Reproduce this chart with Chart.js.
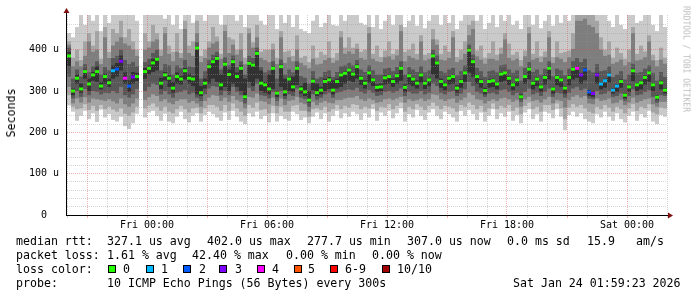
<!DOCTYPE html>
<html>
<head>
<meta charset="utf-8">
<title>SmokePing median rtt</title>
<script src="https://cdn.jsdelivr.net/npm/chart.js@4.4.1/dist/chart.umd.min.js"></script>
<style>
  html, body { margin: 0; padding: 0; background: #fff; }
  #wrap { position: relative; width: 697px; height: 297px; overflow: hidden; background: #fff; }
  #chart { position: absolute; left: 0; top: 0; }
  .mono { font-family: "DejaVu Sans Mono", monospace; color: #000; white-space: pre; }
  .row { position: absolute; left: 0; width: 697px; height: 14px; line-height: 14px; font-size: 11.6px; }
  .row span { position: absolute; top: 0; }
  .row .box { width: 6px; height: 6px; top: 3px; border: 1px solid #000; }
  #ytitle { position: absolute; left: 11px; top: 113px; font-size: 11.6px; transform: translate(-50%, -50%) rotate(-90deg); }
  #mark { position: absolute; left: 686px; top: 59px; font-size: 8px; color: #bdbdbd; transform: translate(-50%, -50%) rotate(90deg); }
</style>
</head>
<body>
<div id="wrap">
  <canvas id="chart" width="697" height="297"></canvas>
  <div id="ytitle" class="mono">Seconds</div>
  <div id="mark" class="mono">RRDTOOL / TOBI OETIKER</div>
  <div class="row mono" style="top:234px">
    <span style="left:16px">median rtt:</span>
    <span style="left:107px">327.1 us avg</span>
    <span style="left:207px">402.0 us max</span>
    <span style="left:307px">277.7 us min</span>
    <span style="left:407px">307.0 us now</span>
    <span style="left:507px">0.0 ms sd</span>
    <span style="left:587px">15.9</span>
    <span style="left:636px">am/s</span>
  </div>
  <div class="row mono" style="top:248px">
    <span style="left:16px">packet loss:</span>
    <span style="left:107px">1.61 % avg</span>
    <span style="left:192px">42.40 % max</span>
    <span style="left:286px">0.00 % min</span>
    <span style="left:372px">0.00 % now</span>
  </div>
  <div class="row mono" id="lossRow" style="top:262px">
    <span style="left:16px">loss color:</span>
  </div>
  <div class="row mono" style="top:276px">
    <span style="left:16px">probe:</span>
    <span style="left:107px">10 ICMP Echo Pings (56 Bytes) every 300s</span>
    <span style="left:513px">Sat Jan 24 01:59:23 2026</span>
  </div>
</div>
<script>
// 30 hours starting Thu 20:00, one column every 12 minutes (values in microseconds)
const stepHours = 0.2;
const hoursShown = 30;

const medianRtt = [
  385,300,331,305,347,317,339,347,312,335, 320,349,353,372,331,312,334,335,null,347,
  355,368,377,319,339,331,307,335,329,349, 331,329,404,296,319,359,371,379,315,365,
  340,371,335,355,286,367,363,391,319,315, 305,355,295,359,298,329,310,355,305,298,
  278,324,296,302,323,327,302,323,339,343, 351,341,359,331,319,344,327,309,310,332,
  335,323,337,355,309,337,329,319,339,319, 327,385,368,323,315,331,335,307,323,344,
  399,371,335,323,301,323,325,317,341,344, 331,315,327,286,335,353,319,329,310,333,
  355,305,333,327,307,333,353,355,339,351, 298,294,339,317,325,339,302,312,323,290,
  310,349,315,320,333,344,315,285,320,302
];

// lost pings (out of 10) per column
const lossPings = [
  0,0,0,0,0,0,0,0,0,0, 0,1,2,3,4,2,3,0,0,0,
  0,0,0,0,0,0,0,0,0,0, 0,0,0,0,0,0,0,0,0,0,
  0,0,0,0,0,0,0,0,0,0, 0,0,0,0,0,0,0,0,0,0,
  0,0,0,0,0,0,0,0,0,0, 0,0,0,0,0,0,0,0,0,0,
  0,0,0,0,0,0,0,0,0,0, 0,0,0,0,0,0,0,0,0,0,
  0,0,0,0,0,0,0,0,0,0, 0,0,0,0,0,0,0,0,0,0,
  0,0,0,0,0,0,0,4,3,2, 2,3,3,1,1,1,1,1,0,0,
  0,0,0,0,0,0,0,0,0,0
];

// sorted pings, fastest (ping1) to slowest (ping10)
const ping1 = [
  265,250,228,240,252,232,246,225,255,236, 244,230,226,238,215,208,222,245,null,236,
  248,252,240,228,245,226,222,238,250,232, 224,240,246,226,242,250,244,236,228,248,
  230,252,238,226,220,246,238,250,232,240, 224,246,226,240,232,228,250,244,230,236,
  222,238,248,232,246,226,240,252,234,246, 238,250,244,230,246,236,256,228,248,240,
  252,234,246,258,226,244,236,254,240,230, 248,256,240,232,250,244,236,226,252,240,
  254,244,230,248,226,240,256,232,246,238, 250,228,242,222,248,256,232,244,226,250,
  246,234,256,238,205,242,250,238,246,232, 226,222,244,236,250,238,228,246,232,224,
  240,250,228,244,236,252,226,220,242,238
];
const ping2 = [
  290,262,256,258,268,254,264,252,266,256, 262,255,250,258,245,240,248,262,null,258,
  265,270,262,252,262,250,246,256,264,256, 248,258,260,246,258,266,266,262,252,266,
  252,270,258,250,240,266,260,272,254,256, 246,264,246,262,250,250,264,266,252,252,
  238,256,258,254,262,250,256,266,256,264, 260,268,266,256,262,258,268,252,262,260,
  268,256,264,272,250,262,256,268,262,254, 264,272,264,256,264,262,258,250,266,262,
  272,266,256,264,250,258,270,256,264,260, 266,252,260,244,264,272,256,262,250,266,
  266,254,270,258,232,260,268,262,266,258, 250,246,262,256,266,260,250,262,256,246,
  258,268,252,262,258,268,248,244,260,258
];
const ping3 = [
  310,270,282,272,285,272,282,280,278,276, 280,275,270,282,268,262,270,282,null,278,
  285,292,288,275,280,272,268,276,280,280, 272,276,270,262,276,284,290,288,276,284,
  274,288,278,274,258,286,284,294,276,274, 268,284,264,282,266,276,278,286,272,268,
  250,274,266,272,276,272,270,278,278,282, 284,284,288,280,276,282,278,272,274,280,
  282,278,282,286,272,280,276,278,282,276, 280,292,290,280,276,280,282,272,278,284,
  296,290,280,278,270,276,280,276,282,284, 280,274,278,262,280,286,276,278,272,280,
  286,270,278,276,260,278,286,290,284,288, 270,268,282,276,278,282,270,272,278,266,
  272,284,272,276,280,282,268,262,274,274
];
const ping4 = [
  335,282,300,286,305,290,300,298,292,296, 295,300,295,310,290,284,292,305,null,300,
  310,318,315,292,300,292,284,296,298,302, 292,296,284,276,292,306,312,310,290,300,
  290,310,298,290,270,308,300,318,290,288, 282,298,276,300,280,292,288,306,284,280,
  262,292,278,284,292,296,284,296,298,302, 304,302,308,298,294,302,296,288,290,298,
  300,296,300,306,288,298,294,294,300,292, 296,318,312,296,292,298,300,288,294,304,
  322,312,298,294,286,294,296,292,302,304, 298,290,296,274,298,306,292,296,288,298,
  306,286,296,294,284,296,306,310,302,306, 282,280,300,292,294,300,286,288,294,276,
  288,304,290,292,298,302,286,272,290,288
];
const ping5 = [
  360,290,318,296,330,300,325,322,304,318, 310,330,335,350,318,298,318,324,null,330,
  340,346,350,305,326,310,296,318,316,328, 318,312,292,288,306,318,330,322,302,310,
  300,318,310,300,280,322,312,330,300,296, 292,305,286,310,288,300,298,315,294,288,
  272,302,288,292,300,305,292,306,310,318, 325,322,330,315,306,320,312,298,300,316,
  318,310,318,325,298,316,312,306,320,305, 312,340,330,308,302,316,318,296,308,322,
  345,335,318,308,292,308,310,304,322,325, 315,302,312,280,318,328,304,312,298,316,
  328,294,314,310,294,314,328,332,318,326, 288,286,318,304,308,320,294,298,308,282,
  298,324,300,304,316,322,300,278,304,294
];
const ping6 = [
  395,306,340,318,352,330,346,360,322,342, 330,362,368,386,345,326,346,344,null,356,
  362,378,382,332,346,338,322,345,336,356, 342,336,408,312,330,364,376,384,340,370,
  352,376,345,362,330,372,368,396,350,322, 340,360,300,364,330,334,335,360,312,320,
  300,330,318,310,330,334,326,330,344,348, 356,346,364,336,326,349,332,316,318,338,
  340,330,342,360,316,342,334,326,344,325, 332,390,373,330,322,336,340,314,328,349,
  404,376,340,328,308,328,330,322,346,349, 336,320,332,292,340,358,324,334,315,338,
  360,310,338,332,312,338,358,360,344,356, 303,299,344,322,330,344,307,317,328,295,
  315,354,320,325,338,349,320,290,325,307
];
const ping7 = [
  405,330,352,335,365,345,360,372,340,358, 350,380,385,400,375,365,370,360,null,370,
  378,392,400,350,365,362,340,362,355,375, 360,358,418,330,348,375,388,395,352,382,
  362,386,358,372,340,385,380,405,358,345, 350,372,330,376,340,352,345,372,336,332,
  318,348,330,334,346,350,334,346,360,362, 368,362,375,352,346,362,350,340,340,354,
  356,348,358,372,340,358,352,346,360,345, 350,400,386,348,344,352,356,338,348,362,
  412,388,356,348,334,348,350,345,362,364, 352,344,350,325,356,370,346,352,340,354,
  372,336,354,350,338,354,372,380,370,378, 350,345,365,348,350,360,334,340,348,328,
  340,366,344,346,354,362,344,325,346,334
];
const ping8 = [
  412,360,372,360,385,420,395,400,365,430, 380,410,420,430,415,410,400,385,null,400,
  405,420,425,385,440,390,372,395,380,450, 392,385,440,370,380,405,415,420,378,445,
  392,412,388,400,365,440,405,430,380,375, 370,400,365,430,368,382,372,400,368,362,
  355,378,364,366,375,380,368,374,430,390, 396,390,402,380,376,440,378,372,370,382,
  384,376,386,445,372,385,380,376,420,374, 378,425,412,376,374,380,430,370,376,390,
  435,450,384,376,366,378,378,374,390,425, 380,374,378,360,384,440,376,380,370,382,
  430,368,382,378,370,382,402,470,470,475, 460,455,440,400,385,388,366,370,376,362,
  370,440,374,376,382,420,374,360,376,366
];
const ping9 = [
  420,380,400,375,420,440,410,445,378,455, 395,450,440,470,430,450,420,400,null,440,
  420,460,440,400,455,410,395,440,392,470, 410,420,470,385,400,420,455,432,390,460,
  430,425,400,440,380,452,418,460,395,400, 400,415,380,445,395,398,385,435,380,385,
  370,410,380,395,388,420,380,392,445,405, 430,405,415,395,400,455,390,410,382,398,
  420,390,400,460,395,400,415,390,435,388, 392,450,425,390,410,395,445,382,400,420,
  460,470,398,410,380,392,420,388,405,440, 415,388,395,375,398,455,390,420,384,396,
  445,382,420,392,395,398,440,484,484,484, 484,484,470,430,400,420,380,405,392,378,
  400,455,390,410,396,435,388,375,405,380
];
const ping10 = [
  440,430,455,484,460,484,470,484,445,484, 465,484,484,484,484,484,484,470,null,484,
  484,484,484,484,475,484,460,484,450,484, 484,465,484,484,470,484,484,484,460,484,
  484,484,470,484,455,484,484,484,470,460, 484,484,450,484,465,484,455,484,450,445,
  440,470,484,455,465,484,460,458,484,470, 484,484,484,465,460,484,455,484,450,470,
  484,460,484,484,455,470,484,458,484,452, 470,484,484,460,484,465,484,450,470,484,
  484,484,470,484,450,465,484,455,484,470, 484,460,470,450,484,484,460,484,452,470,
  484,458,484,465,484,470,484,484,484,484, 484,484,484,484,484,470,455,484,460,450,
  484,484,465,470,484,484,460,445,484,455
];

const xTickHours = [4, 10, 16, 22, 28];
const xTickText = ['Fri 00:00', 'Fri 06:00', 'Fri 12:00', 'Fri 18:00', 'Sat 00:00'];
const yTickValues = [0, 100, 200, 300, 400];
const yTickText = ['0  ', '100 u', '200 u', '300 u', '400 u'];

const lossLabels = ['0', '1', '2', '3', '4', '5', '6-9', '10/10'];
const lossColors = ['#26ff00', '#00b8ff', '#0059ff', '#7e00ff', '#ff00ff', '#ff5500', '#ff0000', '#a10000'];
const lossBoxX = [108, 146, 183, 219, 257, 294, 330, 382];
const lossTextX = [123, 161, 199, 235, 272, 308, 345, 397];

// smoke pairs, outer (lightest) to inner (darkest)
const smokePairs = [[ping1, ping10], [ping2, ping9], [ping3, ping8], [ping4, ping7], [ping5, ping6]];
const smokeColors = ['#cacaca', '#a4a4a4', '#7e7e7e', '#585858', '#323232'];

const majorGrid = 'rgba(225,70,70,0.42)';
const minorGrid = 'rgba(150,150,150,0.4)';

function lossColor(n) {
  if (n >= 10) return lossColors[7];
  if (n >= 6) return lossColors[6];
  return lossColors[n];
}

function colX(i) {
  return i * stepHours + stepHours / 2;
}

const datasets = smokePairs.map((pair, s) => ({
  label: 'smoke' + (s + 1),
  order: 5 - s,
  backgroundColor: smokeColors[s],
  data: pair[0].map((lo, i) => ({ x: colX(i), y: lo === null ? null : [lo, pair[1][i]] }))
    .filter(d => d.y !== null)
}));

datasets.push({
  label: 'median',
  order: 0,
  backgroundColor: medianRtt.map((m, i) => lossColor(lossPings[i])).filter((c, i) => medianRtt[i] !== null),
  data: medianRtt.map((m, i) => ({ x: colX(i), y: m === null ? null : [m - 3.6, m + 3.6] }))
    .filter(d => d.y !== null)
});

// axis lines with the little rrdtool arrows
const rrdAxes = {
  id: 'rrdAxes',
  afterDraw(chart) {
    const { ctx, chartArea: a } = chart;
    ctx.save();
    ctx.strokeStyle = '#000';
    ctx.lineWidth = 1;
    ctx.beginPath();
    ctx.moveTo(a.left - 0.5, a.bottom + 0.5);
    ctx.lineTo(a.left - 0.5, a.top - 3);
    ctx.moveTo(a.left - 1, a.bottom + 0.5);
    ctx.lineTo(a.right + 2, a.bottom + 0.5);
    ctx.stroke();
    ctx.fillStyle = '#7f1010';
    ctx.beginPath();
    ctx.moveTo(a.left - 3.5, a.top - 2);
    ctx.lineTo(a.left + 2.5, a.top - 2);
    ctx.lineTo(a.left - 0.5, a.top - 7);
    ctx.closePath();
    ctx.fill();
    ctx.beginPath();
    ctx.moveTo(a.right + 1, a.bottom - 2.5);
    ctx.lineTo(a.right + 1, a.bottom + 3.5);
    ctx.lineTo(a.right + 6, a.bottom + 0.5);
    ctx.closePath();
    ctx.fill();
    ctx.restore();
  }
};

const tickFont = { family: 'DejaVu Sans Mono', size: 10 };

new Chart(document.getElementById('chart'), {
  type: 'bar',
  data: { datasets },
  plugins: [rrdAxes],
  options: {
    responsive: false,
    animation: false,
    events: [],
    layout: { padding: { left: 0, right: 30, top: 15, bottom: 62 } },
    datasets: {
      bar: {
        grouped: false,
        barPercentage: 1,
        categoryPercentage: 1,
        borderWidth: 0,
        inflateAmount: 0
      }
    },
    plugins: {
      legend: { display: false },
      tooltip: { enabled: false },
      title: { display: false }
    },
    scales: {
      x: {
        type: 'linear',
        offset: false,
        min: 0,
        max: hoursShown,
        afterFit: scale => { scale.height = 20; },
        border: { display: false, dash: [1, 1] },
        grid: {
          z: 1,
          offset: false,
          drawTicks: true,
          tickLength: 3,
          color: c => {
            if (!c.tick) return minorGrid;
            return c.tick.value % 3 === 1 ? majorGrid : minorGrid;
          }
        },
        ticks: {
          stepSize: 1,
          autoSkip: false,
          maxRotation: 0,
          padding: 1,
          color: '#000',
          font: tickFont,
          callback: v => {
            const idx = xTickHours.indexOf(v);
            return idx >= 0 ? xTickText[idx] : '';
          }
        }
      },
      y: {
        min: 0,
        max: 484,
        afterFit: scale => { scale.width = 67; },
        border: { display: false, dash: [1, 1] },
        grid: {
          z: 1,
          drawTicks: false,
          color: c => {
            if (!c.tick) return 'rgba(0,0,0,0)';
            const v = c.tick.value;
            if (v % 20 !== 0 || v === 0) return 'rgba(0,0,0,0)';
            return v % 100 === 0 ? majorGrid : minorGrid;
          }
        },
        ticks: {
          stepSize: 20,
          autoSkip: false,
          padding: 8,
          color: '#000',
          font: tickFont,
          callback: v => {
            const idx = yTickValues.indexOf(v);
            return idx >= 0 ? yTickText[idx] : '';
          }
        }
      }
    }
  }
});

// loss colour legend
const lossRow = document.getElementById('lossRow');
lossLabels.forEach((txt, i) => {
  const box = document.createElement('span');
  box.className = 'box';
  box.style.left = lossBoxX[i] + 'px';
  box.style.background = lossColors[i];
  lossRow.appendChild(box);
  const label = document.createElement('span');
  label.style.left = lossTextX[i] + 'px';
  label.textContent = txt;
  lossRow.appendChild(label);
});
</script>
</body>
</html>
